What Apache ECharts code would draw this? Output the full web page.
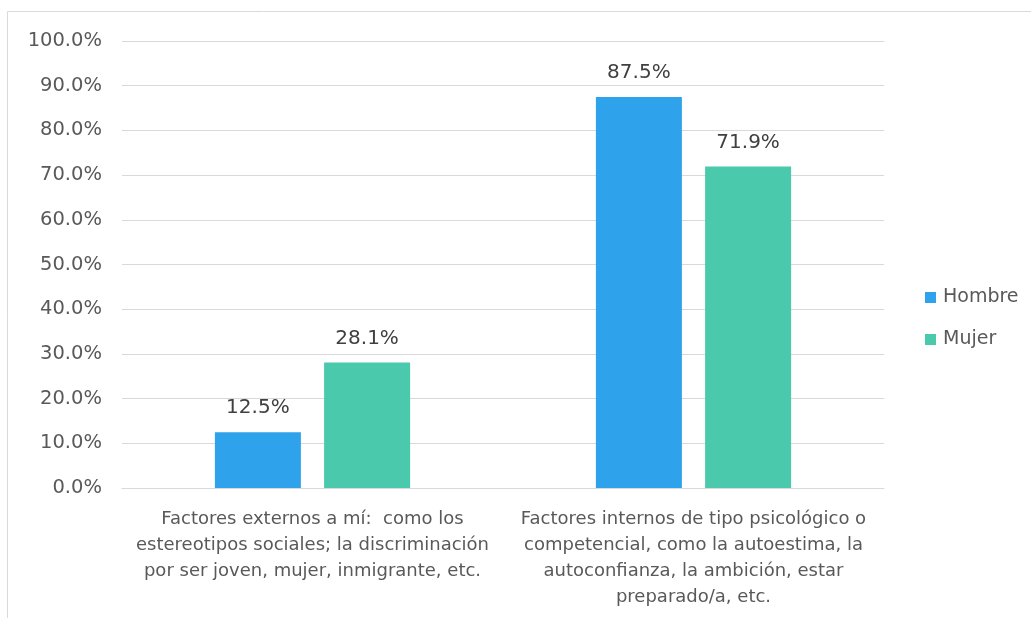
<!DOCTYPE html>
<html>
<head>
<meta charset="utf-8">
<script src="https://cdn.jsdelivr.net/npm/echarts@6/dist/echarts.min.js"></script>
<style>
  html, body { margin: 0; padding: 0; background: #ffffff; }
  #chart { width: 1031px; height: 618px; }
</style>
</head>
<body>
<div id="chart"></div>
<script>
// Categories (line breaks as laid out under the axis)
const categories = [
  'Factores externos a mí:  como los\nestereotipos sociales; la discriminación\npor ser joven, mujer, inmigrante, etc.',
  'Factores internos de tipo psicológico o\ncompetencial, como la autoestima, la\nautoconfianza, la ambición, estar\npreparado/a, etc.'
];
// Share of respondents (%)
const hombre = [12.5, 87.5];
const mujer = [28.1, 71.9];
const seriesNames = ['Hombre', 'Mujer'];
const yTicks = { min: 0, max: 100, interval: 10 };

const FONT = 'DejaVu Sans';
const chart = echarts.init(document.getElementById('chart'), null, { renderer: 'canvas' });

const labelStyle = {
  show: true,
  position: 'top',
  distance: 14,
  color: '#404040',
  fontFamily: FONT,
  fontSize: 20,
  formatter: p => p.value.toFixed(1) + '%'
};

chart.setOption({
  backgroundColor: '#ffffff',
  animation: false,
  graphic: [{
    type: 'rect',
    shape: { x: 7.5, y: 11.5, width: 1100, height: 700 },
    style: { fill: 'none', stroke: '#D9D9D9', lineWidth: 1 },
    silent: true
  }],
  grid: { left: 122, right: 147, top: 41, bottom: 130, containLabel: false },
  legend: {
    orient: 'vertical',
    left: 925,
    top: 288,
    padding: 0,
    itemWidth: 11,
    itemHeight: 11,
    itemGap: 23,
    icon: 'rect',
    textStyle: { color: '#595959', fontFamily: FONT, fontSize: 19, padding: [0, 0, 0, 2] },
    data: seriesNames
  },
  xAxis: {
    type: 'category',
    data: categories,
    axisLine: { show: true, lineStyle: { color: '#D9D9D9', width: 1 } },
    axisTick: { show: false },
    axisLabel: {
      color: '#595959',
      fontFamily: FONT,
      fontSize: 18,
      lineHeight: 26,
      margin: 18,
      interval: 0,
      align: 'center'
    }
  },
  yAxis: {
    type: 'value',
    min: yTicks.min,
    max: yTicks.max,
    interval: yTicks.interval,
    axisLine: { show: false },
    axisTick: { show: false },
    splitLine: { lineStyle: { color: '#D9D9D9', width: 1 } },
    axisLabel: {
      color: '#595959',
      fontFamily: FONT,
      fontSize: 19.5,
      margin: 20,
      formatter: v => v.toFixed(1) + '%'
    }
  },
  series: [
    {
      name: seriesNames[0],
      type: 'bar',
      data: hombre,
      barWidth: 86,
      barGap: '27%',
      itemStyle: { color: '#2EA3EC' },
      label: labelStyle
    },
    {
      name: seriesNames[1],
      type: 'bar',
      data: mujer,
      barWidth: 86,
      itemStyle: { color: '#4BC9AD' },
      label: labelStyle
    }
  ]
});
</script>
</body>
</html>
